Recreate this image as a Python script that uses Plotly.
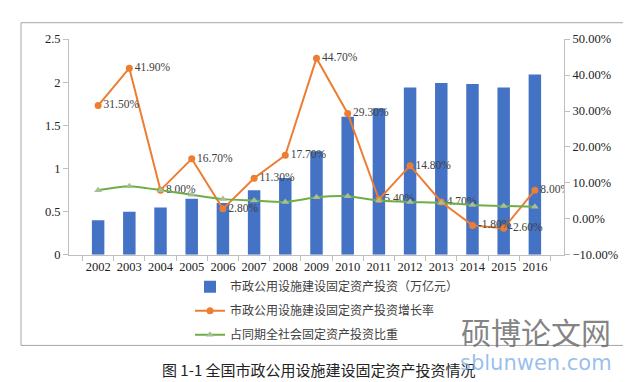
import plotly.graph_objects as go

W, H = 631, 382

years = [str(y) for y in range(2002, 2017)]
invest = [0.40, 0.50, 0.55, 0.65, 0.60, 0.75, 0.89, 1.20, 1.60, 1.70, 1.94, 1.99, 1.98, 1.94, 2.09]
growth = [0.315, 0.419, 0.080, 0.167, 0.028, 0.113, 0.177, 0.447, 0.293, 0.054, 0.148, 0.047, -0.018, -0.026, 0.080]
share = [0.080, 0.091, 0.080, 0.067, 0.055, 0.051, 0.047, 0.060, 0.063, 0.051, 0.047, 0.045, 0.039, 0.036, 0.034]
left_ticks = [0, 0.5, 1, 1.5, 2, 2.5]
left_labels = ["0", "0.5", "1", "1.5", "2", "2.5"]

name_invest = "市政公用设施建设固定资产投资（万亿元）"
name_growth = "市政公用设施建设固定资产投资增长率"
name_share = "占同期全社会固定资产投资比重"
caption = "图 1-1 全国市政公用设施建设固定资产投资情况"

SERIF = "Liberation Serif"
CJK = "Noto Sans CJK SC"

def px_x(v):
    return v / W

def px_y(v):
    return 1 - v / H

fig = go.Figure()

fig.add_trace(go.Bar(
    x=years, y=invest, name=name_invest,
    marker=dict(color="#4472C4", line=dict(width=0)),
    width=0.4, legendgroup="a", yaxis="y",
))
fig.add_trace(go.Scatter(
    x=years, y=growth, name=name_growth, yaxis="y2",
    mode="lines+markers+text",
    line=dict(color="#ED7D31", width=2),
    marker=dict(color="#ED7D31", size=7, symbol="circle"),
    text=[f"{v*100:.2f}%" for v in growth],
    textposition="middle right",
    textfont=dict(family=SERIF, size=11.5, color="#404040"),
    legendgroup="b",
))
fig.add_trace(go.Scatter(
    x=years, y=share, name=name_share, yaxis="y2",
    mode="lines+markers",
    line=dict(color="#70AD47", width=2, shape="spline", smoothing=0.6),
    marker=dict(color="#A9BE93", size=7, symbol="triangle-up"),
    legendgroup="c",
))

x0, x1 = px_x(61), px_x(556)
y0, y1 = px_y(249), px_y(25)

tickfont = dict(family=SERIF, size=12.5, color="#222222")

fig.update_layout(
    width=W, height=H,
    margin=dict(l=0, r=0, t=0, b=0),
    paper_bgcolor="white", plot_bgcolor="white",
    showlegend=True,
    legend=dict(
        x=px_x(182), y=px_y(267), xanchor="left", yanchor="top",
        orientation="v", tracegroupgap=5,
        font=dict(family=CJK, size=12, color="#404040"),
        bgcolor="rgba(0,0,0,0)", itemwidth=30,
    ),
    xaxis=dict(
        domain=[x0, x1], type="category",
        showline=True, linecolor="#BFBFBF", linewidth=1,
        ticks="outside", tickson="boundaries", ticklen=5, tickcolor="#BFBFBF",
        tickfont=tickfont, tickangle=0,
        showgrid=False, zeroline=False,
    ),
    yaxis=dict(
        domain=[y0, y1], range=[0, 2.5],
        tickvals=left_ticks, ticktext=left_labels,
        showline=True, linecolor="#BFBFBF", linewidth=1,
        ticks="outside", ticklen=5, tickcolor="#BFBFBF",
        tickfont=tickfont,
        showgrid=False, zeroline=False,
    ),
    yaxis2=dict(
        domain=[y0, y1], range=[-0.10, 0.50], dtick=0.10,
        overlaying="y", side="right", anchor="x",
        showline=True, linecolor="#BFBFBF", linewidth=1,
        ticks="outside", ticklen=5, tickcolor="#BFBFBF",
        tickfont=tickfont,
        tickformat=".2%", showgrid=False, zeroline=False,
    ),
    shapes=[
        dict(type="rect", xref="paper", yref="paper",
             x0=px_x(13), x1=px_x(618), y0=px_y(343), y1=px_y(8),
             line=dict(color="#A6A6A6", width=1), fillcolor="rgba(0,0,0,0)", layer="below"),
    ],
    annotations=[
        dict(text=caption, xref="paper", yref="paper",
             x=px_x(152), y=px_y(368), xanchor="left", yanchor="middle",
             showarrow=False, font=dict(family=CJK, size=15, color="#222222")),
        dict(text="硕博论文网", xref="paper", yref="paper",
             x=px_x(528), y=px_y(328), xanchor="center", yanchor="middle",
             showarrow=False, font=dict(family=CJK, size=30, color="rgba(110,110,110,0.85)")),
        dict(text="sblunwen.com", xref="paper", yref="paper",
             x=px_x(528), y=px_y(361), xanchor="center", yanchor="middle",
             showarrow=False, font=dict(family="DejaVu Sans", size=21, color="rgba(120,170,230,0.75)")),
    ],
)

fig.write_html("out.html")
